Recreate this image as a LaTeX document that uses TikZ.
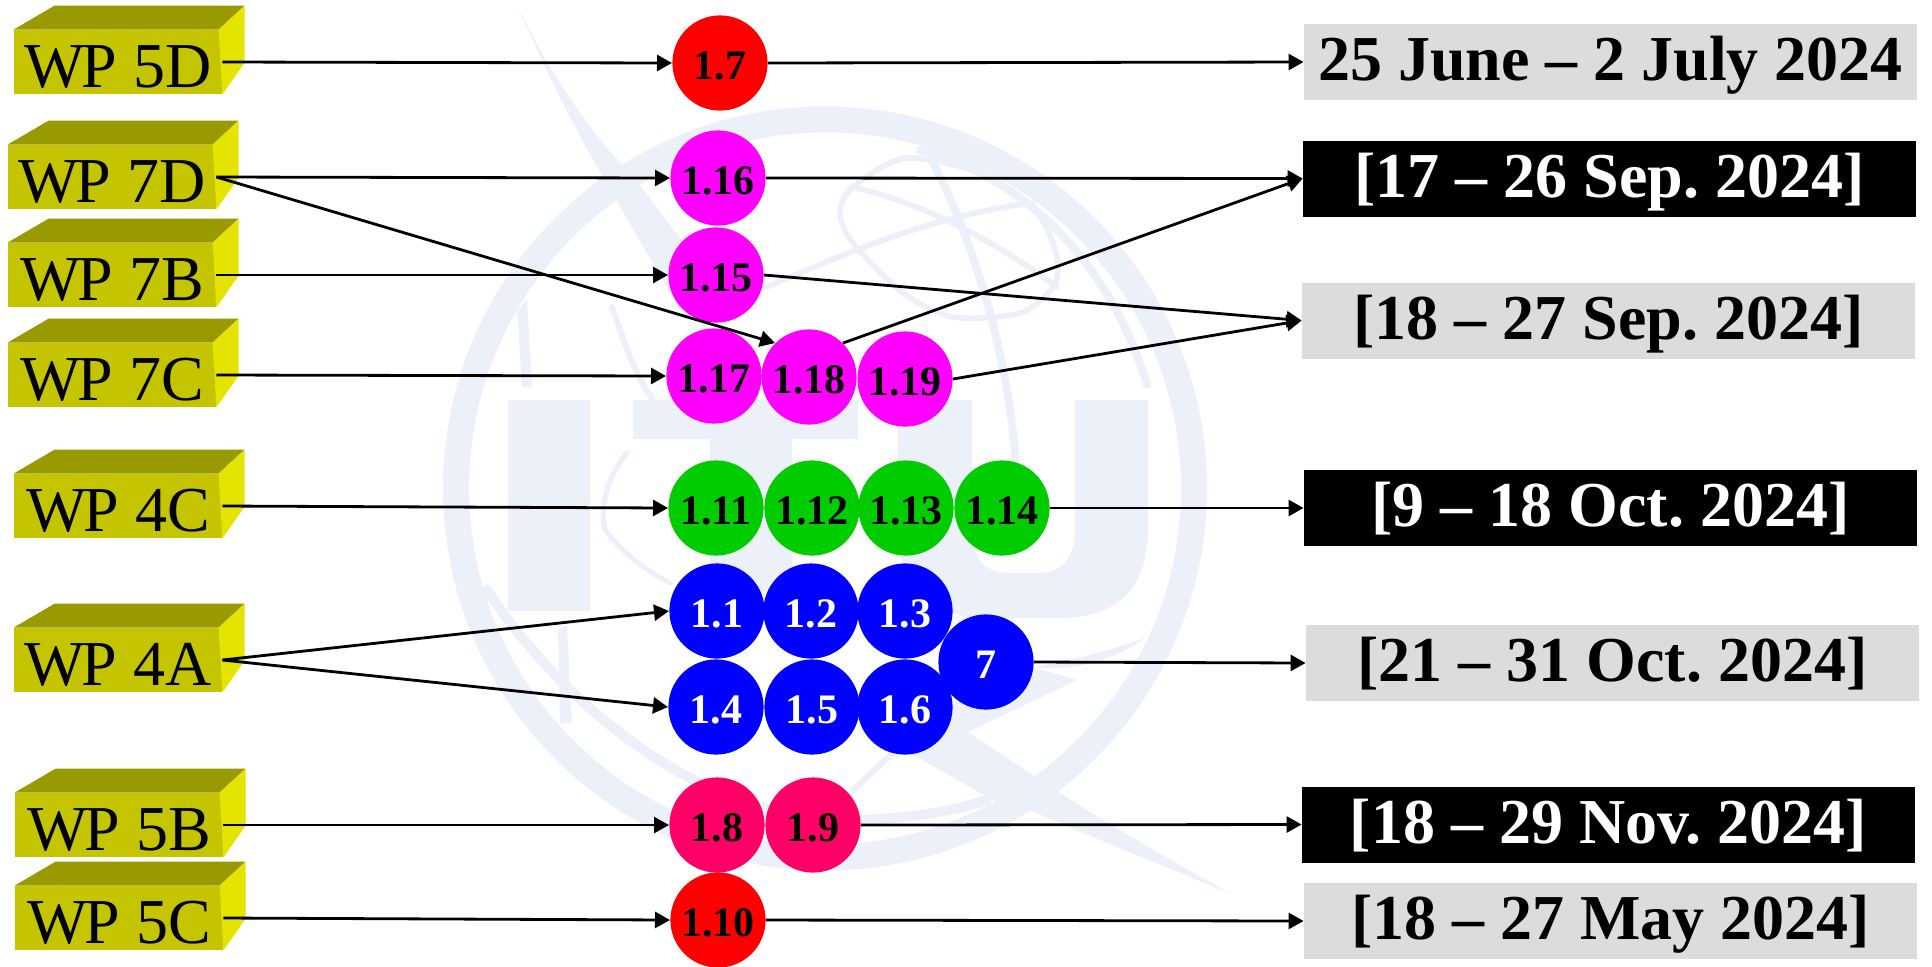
\documentclass[tikz,border=0pt]{standalone}
\usepackage{fontspec}
\setmainfont{Liberation Serif}
\usetikzlibrary{arrows.meta, shapes.geometric}
\definecolor{wpFront}{RGB}{196,196,0}
\definecolor{wpTop}{RGB}{153,153,0}
\definecolor{wpSide}{RGB}{228,228,0}
\definecolor{itemMagenta}{RGB}{255,0,255}
\definecolor{itemGreen}{RGB}{0,204,0}
\definecolor{itemRose}{RGB}{255,0,102}
\definecolor{lightDate}{RGB}{220,220,220}
\definecolor{logoBlue}{RGB}{236,240,248}
% top and side faces of a WP block
\newcommand{\wpfaces}[1]{%
    \fill[wpTop] (#1.north west) -- ++(41,-24) -- ++(190,0) -- ++(-26,24) -- cycle;
    \fill[wpSide] (#1.north west) ++(205,0) -- ++(26,-24) -- ++(0,57) -- (#1.south east) -- cycle;
}
\newcommand{\wpname}{W\kern-1.5pt P}
\frenchspacing
\begin{document}
\begin{tikzpicture}[
        x=0.5pt, y=-0.5pt,
        wpbox/.style={rectangle, fill=wpFront, minimum width=104pt, minimum height=32pt, inner sep=0pt, font=\fontsize{32}{32}\selectfont, text height=25pt, text depth=0pt},
        item/.style={circle, minimum size=47.6pt, inner sep=0pt, font=\fontsize{21}{21}\selectfont\bfseries, text height=16pt, text depth=0pt},
        datebox/.style={rectangle, minimum width=306.5pt, minimum height=38pt, inner sep=0pt, font=\fontsize{32}{32}\selectfont\bfseries, text height=18.5pt, text depth=0pt},
        arrow/.style={-{Triangle[length=7.5pt, width=8pt]}, line width=1.4pt},
        logo/.style={draw=logoBlue, line cap=round},
        logofill/.style={fill=logoBlue}
    ]
        \useasboundingbox[fill=white] (0,0) rectangle (1932,966);

        % Logo behind everything
        \draw[draw=logoBlue, line width=13pt] (825,488.5) circle (369);
        \fill[logofill] (508,400) rectangle (590,611);
        \fill[logofill] (633,400) rectangle (858,439);
        \fill[logofill] (710,439) rectangle (792,611);
        \fill[logofill] (898,400) -- (898,530) .. controls (898,590) and (935,618) .. (985,618) -- (1060,618) .. controls (1115,618) and (1148,590) .. (1148,530) -- (1148,400) -- (1075,400) -- (1075,530) .. controls (1075,560) and (1060,573) .. (1040,573) -- (1010,573) .. controls (985,573) and (972,560) .. (972,530) -- (972,400) -- cycle;
        \fill[logofill] (517,5) .. controls (545,65) and (585,125) .. (622,165) -- (640,185) -- (700,265) -- (680,310) -- (618,203) .. controls (575,130) and (545,70) .. (517,5) -- cycle;
        \fill[logofill] (1233,895) .. controls (1170,860) and (1110,825) .. (1060,793) -- (968,732) -- (905,680) -- (880,725) -- (917,757) -- (993,800) -- (1037,813) .. controls (1110,845) and (1175,870) .. (1233,895) -- cycle;
        \fill[logofill] (1077,680) -- (968,732) -- (935,720) -- (1000,665) -- (1033,667) -- cycle;
        \fill[logofill] (1145,638) .. controls (1115,660) and (1075,672) .. (1033,667) .. controls (1075,660) and (1110,650) .. (1145,638) -- cycle;
        \fill[logofill] (517,310) -- (527,300) -- (532,387) -- (522,387) -- cycle;
        \fill[logofill] (558,630) -- (567,625) -- (572,723) -- (560,723) -- cycle;
        \draw[logo, line width=5pt] (487,590) .. controls (560,700) and (700,825) .. (860,820) .. controls (910,818) and (950,812) .. (987,800);
        \draw[logo, line width=3pt] (853,790) -- (893,753);
        \draw[logo, line width=4pt] (920,150) .. controls (1020,175) and (1110,260) .. (1147,385);
        \draw[logo, line width=2.8pt] plot[smooth cycle] coordinates {(840,213) (853,187) (907,158) (985,175) (1037,213) (1057,257) (1053,287) (1020,313) (953,317) (903,293) (853,243)};
        \draw[logo, line width=2.8pt] (760,290) .. controls (830,260) and (930,215) .. (1033,203);
        \draw[logo, line width=2.8pt] (853,187) .. controls (930,205) and (1000,245) .. (1057,287);
        \draw[logo, line width=4pt] (930,157) .. controls (975,240) and (1017,380) .. (1017,500);
        \draw[logo, line width=3pt] (612,307) .. controls (625,345) and (635,375) .. (653,400);
        \draw[logo, line width=2.5pt] (627,453) .. controls (605,480) and (600,510) .. (605,530) .. controls (625,555) and (645,570) .. (670,583);

        % Working parties
        \node[wpbox] (wp5d) at (118,62) {\wpname{} 5D};
        \wpfaces{wp5d}
        \node[wpbox] (wp7d) at (112,177) {\wpname{} 7D};
        \wpfaces{wp7d}
        \node[wpbox] (wp7b) at (112,275) {\wpname{} 7B};
        \wpfaces{wp7b}
        \node[wpbox] (wp7c) at (112,375) {\wpname{} 7C};
        \wpfaces{wp7c}
        \node[wpbox] (wp4c) at (118,506) {\wpname{} 4C};
        \wpfaces{wp4c}
        \node[wpbox] (wp4a) at (118,660) {\wpname{} 4A};
        \wpfaces{wp4a}
        \node[wpbox] (wp5b) at (119,825) {\wpname{} 5B};
        \wpfaces{wp5b}
        \node[wpbox] (wp5c) at (119,918) {\wpname{} 5C};
        \wpfaces{wp5c}

        % Agenda items
        \node[item, fill=red] (i107) at (720,63) {1.7};
        \node[item, fill=itemMagenta] (i116) at (718,178) {1.16};
        \node[item, fill=itemMagenta] (i115) at (716,275) {1.15};
        \node[item, fill=itemMagenta] (i117) at (714,376) {1.17};
        \node[item, fill=itemMagenta] (i118) at (809,377) {1.18};
        \node[item, fill=itemMagenta] (i119) at (905,379) {1.19};
        \node[item, fill=itemGreen] (i111) at (716,508) {1.11};
        \node[item, fill=itemGreen] (i112) at (812,508) {1.12};
        \node[item, fill=itemGreen] (i113) at (906,508) {1.13};
        \node[item, fill=itemGreen] (i114) at (1002,508) {1.14};
        \node[item, fill=blue, text=white] (i101) at (717,611) {1.1};
        \node[item, fill=blue, text=white] (i102) at (811,611) {1.2};
        \node[item, fill=blue, text=white] (i103) at (905,611) {1.3};
        \node[item, fill=blue, text=white] (i104) at (716,707) {1.4};
        \node[item, fill=blue, text=white] (i105) at (812,707) {1.5};
        \node[item, fill=blue, text=white] (i106) at (905,707) {1.6};
        \node[item, fill=blue, text=white] (i7) at (986,662) {7};
        \node[item, fill=itemRose] (i108) at (717,825) {1.8};
        \node[item, fill=itemRose] (i109) at (813,825) {1.9};
        \node[item, fill=red] (i110) at (718,920) {1.10};

        % Dates
        \node[datebox, fill=lightDate] (d1) at (1610.5,62) {25 June – 2 July 2024};
        \node[datebox, fill=black, text=white] (d2) at (1609.5,178.5) {[17 – 26 Sep. 2024]};
        \node[datebox, fill=lightDate] (d3) at (1608.5,320.5) {[18 – 27 Sep. 2024]};
        \node[datebox, fill=black, text=white] (d4) at (1610.5,508) {[9 – 18 Oct. 2024]};
        \node[datebox, fill=lightDate] (d5) at (1612.5,663) {[21 – 31 Oct. 2024]};
        \node[datebox, fill=black, text=white] (d6) at (1608.5,824.5) {[18 – 29 Nov. 2024]};
        \node[datebox, fill=lightDate] (d7) at (1610.5,921) {[18 – 27 May 2024]};

        % Working party to item
        \draw[arrow] (wp5d.east) -- (i107.west);
        \draw[arrow] (wp7d.east) -- (i116.west);
        \draw[arrow] (wp7d.east) -- (i118.north west);
        \draw[arrow] (wp7b.east) -- (i115.west);
        \draw[arrow] (wp7c.east) -- (i117.west);
        \draw[arrow] (wp4c.east) -- (i111.west);
        \draw[arrow] (wp4a.east) -- (i101.west);
        \draw[arrow] (wp4a.east) -- (i104.west);
        \draw[arrow] (wp5b.east) -- (i108.west);
        \draw[arrow] (wp5c.east) -- (i110.west);

        % Item to date
        \draw[arrow] (i107.east) -- (d1.west);
        \draw[arrow] (i116.east) -- (d2.west);
        \draw[arrow] (i118.north east) -- (d2.west);
        \draw[arrow] (i115.east) -- (d3.west);
        \draw[arrow] (i119.east) -- (d3.west);
        \draw[arrow] (i114.east) -- (d4.west);
        \draw[arrow] (i7.east) -- (d5.west);
        \draw[arrow] (i109.east) -- (d6.west);
        \draw[arrow] (i110.east) -- (d7.west);
    \end{tikzpicture}
\end{document}
